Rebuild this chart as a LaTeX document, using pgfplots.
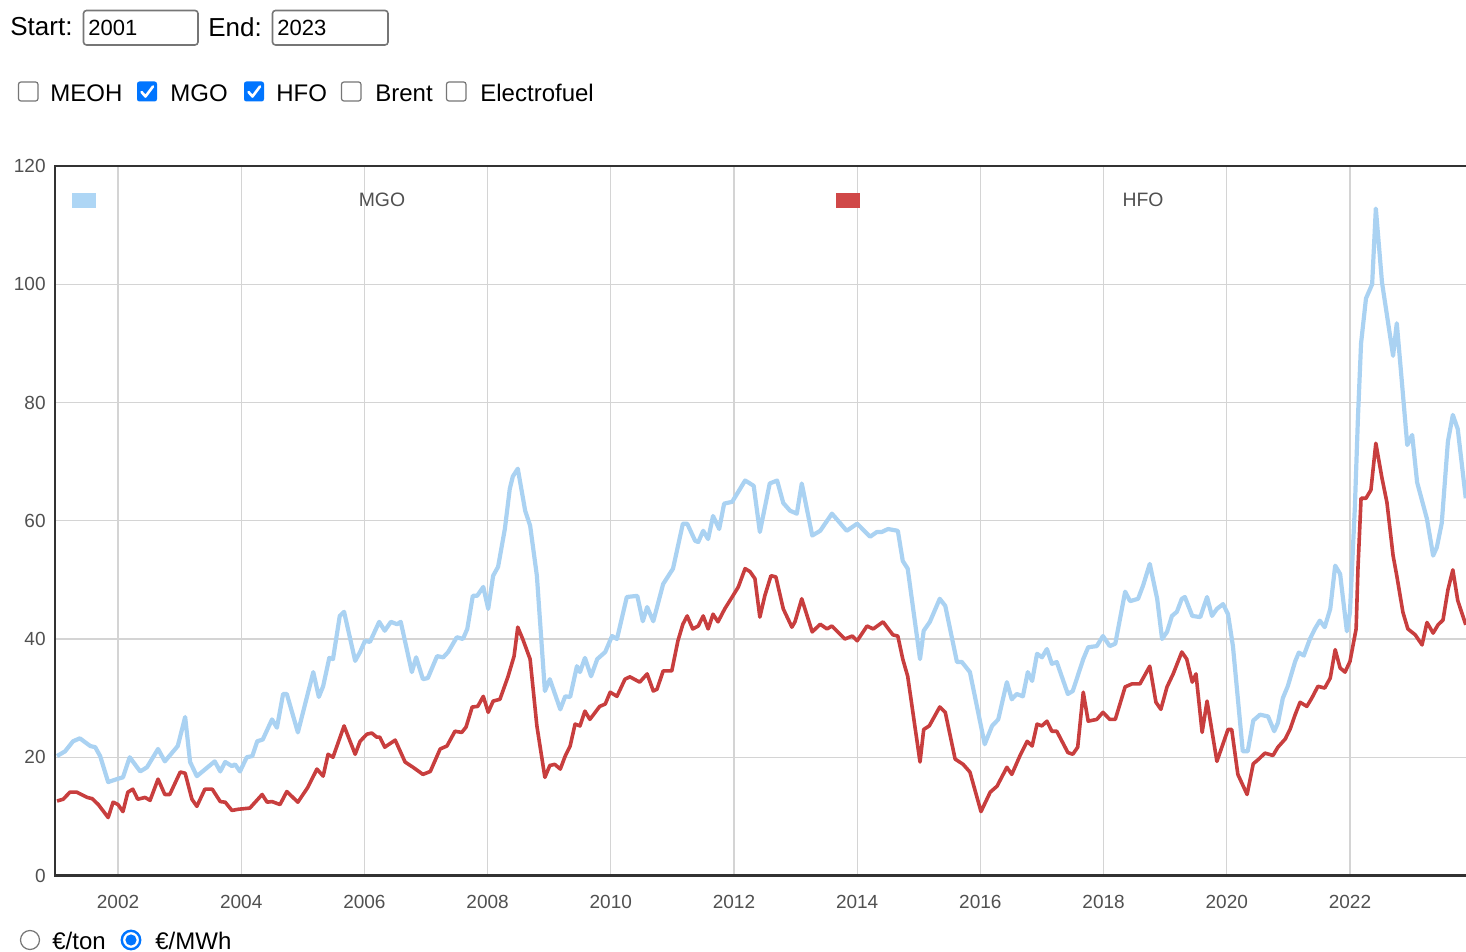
\documentclass[border=0pt]{standalone}
\usepackage{pgfplots}
\pgfplotsset{compat=1.18}
\usepackage{fontspec}
\setmainfont{Liberation Sans}
\definecolor{mgo}{RGB}{170,210,242}
\definecolor{mgosw}{RGB}{174,214,245}
\definecolor{hfo}{RGB}{200,62,62}
\definecolor{hfosw}{RGB}{208,72,72}
\definecolor{framec}{RGB}{50,50,50}
\definecolor{gridc}{RGB}{212,212,212}
\definecolor{ticktext}{RGB}{80,80,80}
\definecolor{chkblue}{RGB}{0,117,255}
\definecolor{boxgray}{RGB}{118,118,118}
\begin{document}
\begin{tikzpicture}
\useasboundingbox (0,0) rectangle (733pt,476pt);
\begin{axis}[
  scale only axis, anchor=south west, at={(27.5pt,38.25pt)},
  width=705.5pt, height=354.75pt,
  xmin=2000.977, xmax=2023.884, ymin=0, ymax=120,
  axis line style={draw=none},
  xtick={2002,2004,...,2022}, ytick={0,20,...,120},
  grid=major, grid style={draw=gridc, line width=0.55pt},
  major tick length=0pt,
  tick label style={font=\fontsize{9.5pt}{11pt}\selectfont, text=ticktext, inner sep=0pt},
  /pgf/number format/assume math mode=true,
  /pgf/number format/1000 sep={},
  xticklabel style={anchor=north, yshift=-9.8pt},
  yticklabel style={anchor=east, xshift=-4.5pt},
  clip=false,
]
\addplot[mgo, line width=2.1pt, line join=round] coordinates {
(2001.01,20.2)(2001.14,21.0)(2001.27,22.7)(2001.38,23.2)(2001.55,21.9)(2001.63,21.7)(2001.71,20.2)(2001.84,15.8)(2001.98,16.3)(2002.08,16.6)(2002.19,20.0)(2002.36,17.6)(2002.47,18.3)(2002.65,21.4)(2002.76,19.3)(2002.97,21.9)(2003.09,26.8)(2003.17,19.2)(2003.28,16.8)(2003.57,19.3)(2003.66,17.6)(2003.74,19.2)(2003.85,18.5)(2003.90,18.8)(2003.98,17.6)(2004.09,20.0)(2004.18,20.2)(2004.26,22.7)(2004.35,23.0)(2004.50,26.4)(2004.58,25.0)(2004.68,30.7)(2004.74,30.7)(2004.92,24.2)(2005.17,34.4)(2005.26,30.2)(2005.33,32.0)(2005.43,36.8)(2005.49,36.6)(2005.60,43.9)(2005.67,44.6)(2005.85,36.3)(2005.93,37.8)(2006.01,39.7)(2006.09,39.5)(2006.24,42.9)(2006.33,41.4)(2006.43,42.9)(2006.53,42.5)(2006.59,42.9)(2006.77,34.4)(2006.84,36.9)(2006.95,33.2)(2007.03,33.4)(2007.18,37.1)(2007.28,36.9)(2007.36,37.8)(2007.50,40.3)(2007.60,40.0)(2007.67,41.7)(2007.76,47.3)(2007.83,47.3)(2007.93,48.8)(2008.01,45.1)(2008.09,50.7)(2008.17,52.2)(2008.28,58.6)(2008.36,65.4)(2008.41,67.5)(2008.49,68.8)(2008.61,61.7)(2008.69,59.2)(2008.80,50.7)(2008.93,31.2)(2009.01,33.2)(2009.18,28.1)(2009.26,30.3)(2009.34,30.2)(2009.45,35.4)(2009.50,34.4)(2009.58,36.8)(2009.68,33.7)(2009.78,36.6)(2009.91,37.8)(2010.02,40.5)(2010.10,40.0)(2010.26,47.1)(2010.43,47.3)(2010.52,43.0)(2010.59,45.4)(2010.69,43.0)(2010.85,49.3)(2011.01,51.9)(2011.17,59.5)(2011.24,59.5)(2011.37,56.6)(2011.42,56.4)(2011.50,58.3)(2011.58,56.9)(2011.66,60.8)(2011.76,58.6)(2011.84,62.9)(2011.97,63.2)(2012.07,64.9)(2012.18,66.8)(2012.26,66.3)(2012.32,65.9)(2012.42,58.1)(2012.58,66.3)(2012.70,66.8)(2012.80,63.0)(2012.91,61.7)(2013.02,61.2)(2013.10,66.3)(2013.27,57.5)(2013.40,58.3)(2013.59,61.2)(2013.69,60.0)(2013.83,58.3)(2014.00,59.5)(2014.21,57.3)(2014.32,58.1)(2014.40,58.1)(2014.50,58.6)(2014.66,58.3)(2014.74,53.2)(2014.82,51.9)(2015.02,36.6)(2015.08,41.4)(2015.18,42.9)(2015.34,46.8)(2015.43,45.6)(2015.62,36.1)(2015.70,36.1)(2015.83,34.4)(2016.07,22.2)(2016.19,25.3)(2016.29,26.4)(2016.43,32.7)(2016.51,29.8)(2016.59,30.7)(2016.69,30.3)(2016.77,34.4)(2016.84,32.9)(2016.92,37.5)(2017.00,36.9)(2017.08,38.3)(2017.16,35.8)(2017.24,36.1)(2017.42,30.7)(2017.50,31.2)(2017.67,36.6)(2017.75,38.6)(2017.89,38.8)(2017.99,40.5)(2018.10,38.8)(2018.19,39.2)(2018.35,48.0)(2018.43,46.4)(2018.56,46.8)(2018.64,49.0)(2018.75,52.7)(2018.87,46.8)(2018.95,40.0)(2019.03,41.2)(2019.11,43.9)(2019.19,44.6)(2019.27,46.8)(2019.32,47.1)(2019.44,43.9)(2019.57,43.7)(2019.68,47.1)(2019.76,43.9)(2019.84,45.1)(2019.94,45.9)(2020.02,44.2)(2020.10,38.8)(2020.26,21.0)(2020.34,21.0)(2020.43,26.2)(2020.54,27.2)(2020.67,26.9)(2020.77,24.4)(2020.83,25.8)(2020.91,30.0)(2020.99,32.0)(2021.11,36.2)(2021.17,37.7)(2021.25,37.2)(2021.35,40.0)(2021.43,41.7)(2021.51,43.1)(2021.59,42.0)(2021.68,45.1)(2021.76,52.4)(2021.84,51.0)(2021.95,41.3)(2022.00,44.5)(2022.08,62.4)(2022.13,77.6)(2022.18,90.0)(2022.26,97.6)(2022.36,100.0)(2022.42,112.8)(2022.52,100.3)(2022.60,94.8)(2022.70,87.9)(2022.76,93.4)(2022.84,83.8)(2022.93,72.8)(2023.01,74.5)(2023.09,66.5)(2023.25,60.3)(2023.35,54.1)(2023.41,55.5)(2023.49,59.6)(2023.59,73.4)(2023.67,77.9)(2023.75,75.5)(2023.88,63.8)
};
\addplot[hfo, line width=1.8pt, line join=round] coordinates {
(2001.01,12.6)(2001.11,12.9)(2001.22,14.1)(2001.33,14.1)(2001.50,13.2)(2001.58,13.0)(2001.68,12.0)(2001.84,9.8)(2001.92,12.4)(2002.00,12.0)(2002.08,10.8)(2002.16,14.1)(2002.24,14.6)(2002.32,12.9)(2002.44,13.2)(2002.52,12.7)(2002.65,16.3)(2002.76,13.7)(2002.84,13.7)(2003.01,17.5)(2003.09,17.3)(2003.20,12.9)(2003.28,11.7)(2003.41,14.6)(2003.53,14.6)(2003.66,12.5)(2003.74,12.4)(2003.85,11.0)(2003.95,11.2)(2004.14,11.4)(2004.34,13.7)(2004.42,12.4)(2004.50,12.5)(2004.63,12.0)(2004.74,14.2)(2004.92,12.4)(2005.08,14.9)(2005.23,18.0)(2005.33,16.8)(2005.41,20.5)(2005.49,20.0)(2005.67,25.3)(2005.85,20.5)(2005.93,22.7)(2006.04,23.9)(2006.12,24.1)(2006.20,23.4)(2006.25,23.4)(2006.33,21.7)(2006.50,22.9)(2006.66,19.2)(2006.79,18.3)(2006.95,17.1)(2007.07,17.6)(2007.23,21.4)(2007.34,21.9)(2007.47,24.4)(2007.58,24.2)(2007.65,25.1)(2007.75,28.5)(2007.84,28.6)(2007.93,30.3)(2008.01,27.6)(2008.09,29.5)(2008.20,29.8)(2008.33,33.6)(2008.43,37.1)(2008.49,42.0)(2008.57,40.0)(2008.69,36.6)(2008.80,25.3)(2008.93,16.6)(2009.01,18.6)(2009.09,18.8)(2009.18,18.0)(2009.26,20.2)(2009.34,21.9)(2009.42,25.6)(2009.50,25.3)(2009.58,27.8)(2009.66,26.4)(2009.82,28.6)(2009.91,29.0)(2009.99,31.0)(2010.10,30.3)(2010.23,33.2)(2010.31,33.6)(2010.47,32.7)(2010.59,34.1)(2010.69,31.2)(2010.75,31.5)(2010.85,34.6)(2010.99,34.6)(2011.09,39.7)(2011.17,42.5)(2011.24,43.9)(2011.33,41.7)(2011.42,42.2)(2011.50,43.9)(2011.58,41.7)(2011.66,44.2)(2011.74,42.9)(2011.85,45.1)(2011.97,47.1)(2012.07,48.8)(2012.18,51.9)(2012.26,51.4)(2012.34,50.2)(2012.42,43.7)(2012.50,47.3)(2012.60,50.7)(2012.68,50.5)(2012.80,45.1)(2012.94,42.0)(2012.99,42.9)(2013.10,46.8)(2013.27,41.2)(2013.40,42.5)(2013.51,41.7)(2013.59,42.2)(2013.80,40.0)(2013.92,40.5)(2014.00,39.7)(2014.16,42.2)(2014.26,41.7)(2014.42,42.9)(2014.58,40.7)(2014.66,40.5)(2014.74,36.6)(2014.82,33.7)(2015.02,19.2)(2015.08,24.7)(2015.17,25.3)(2015.34,28.5)(2015.43,27.6)(2015.59,19.7)(2015.72,18.8)(2015.83,17.5)(2016.01,10.8)(2016.16,14.1)(2016.27,15.1)(2016.43,18.3)(2016.51,17.1)(2016.64,20.2)(2016.76,22.7)(2016.84,21.9)(2016.92,25.6)(2017.00,25.3)(2017.08,26.1)(2017.16,24.4)(2017.24,24.4)(2017.42,20.8)(2017.50,20.5)(2017.58,21.7)(2017.67,31.0)(2017.75,26.1)(2017.89,26.4)(2017.99,27.6)(2018.10,26.4)(2018.19,26.4)(2018.35,31.9)(2018.46,32.4)(2018.59,32.4)(2018.75,35.4)(2018.85,29.3)(2018.93,28.1)(2019.03,31.9)(2019.13,34.1)(2019.27,37.8)(2019.35,36.6)(2019.44,32.7)(2019.50,34.1)(2019.60,24.2)(2019.68,29.5)(2019.84,19.3)(2020.02,24.7)(2020.08,24.7)(2020.18,17.1)(2020.33,13.7)(2020.43,18.9)(2020.51,19.6)(2020.62,20.7)(2020.75,20.3)(2020.83,21.7)(2020.95,23.1)(2021.03,24.8)(2021.11,27.2)(2021.19,29.3)(2021.30,28.6)(2021.38,30.0)(2021.48,32.0)(2021.59,31.7)(2021.68,33.4)(2021.76,38.2)(2021.84,35.1)(2021.92,34.4)(2022.00,36.2)(2022.10,41.7)(2022.13,52.0)(2022.18,63.8)(2022.26,63.8)(2022.34,65.2)(2022.42,73.1)(2022.52,67.2)(2022.60,63.1)(2022.70,54.1)(2022.76,50.7)(2022.86,44.5)(2022.94,41.7)(2023.06,40.7)(2023.17,39.0)(2023.25,42.8)(2023.35,41.0)(2023.43,42.4)(2023.51,43.2)(2023.59,48.3)(2023.67,51.7)(2023.75,46.5)(2023.88,42.4)
};
\draw[framec, line width=1.4pt] (rel axis cs:1.01,1) -- (rel axis cs:0,1) -- (rel axis cs:0,0) -- (rel axis cs:1.01,0);
\end{axis}
\begin{scope}[x=0.5pt,y=-0.5pt,shift={(0,476pt)}]
  % legend
  \fill[mgosw] (72,193) rectangle (96,208);
  \node[text=ticktext, font=\fontsize{9.7pt}{11pt}\selectfont, inner sep=0pt] at (382,200) {MGO};
  \fill[hfosw] (836,193) rectangle (860,208);
  \node[text=ticktext, font=\fontsize{9.7pt}{11pt}\selectfont, inner sep=0pt] at (1143,200) {HFO};
  % start / end inputs
  \node[anchor=west, inner sep=0pt, font=\fontsize{13pt}{15pt}\selectfont] at (10,27) {Start:};
  \draw[boxgray, line width=0.8pt, rounded corners=1.5pt] (83.5,10.5) rectangle (198,45);
  \node[anchor=west, inner sep=0pt, font=\fontsize{11pt}{13pt}\selectfont] at (88,28) {2001};
  \node[anchor=west, inner sep=0pt, font=\fontsize{13pt}{15pt}\selectfont] at (208,27) {End:};
  \draw[boxgray, line width=0.8pt, rounded corners=1.5pt] (272.5,10.5) rectangle (388,45);
  \node[anchor=west, inner sep=0pt, font=\fontsize{11pt}{13pt}\selectfont] at (277,28) {2023};
  % checkboxes
  \draw[boxgray, line width=0.6pt, rounded corners=1.2pt, fill=white] (18.5,82) rectangle (38,101);
  \fill[chkblue, rounded corners=1.2pt] (137,81.5) rectangle (157,101.5);
  \draw[white, line width=1.3pt, line cap=round, line join=round] (141.5,92) -- (145.5,96.5) -- (153,86.5);
  \fill[chkblue, rounded corners=1.2pt] (244,81.5) rectangle (264,101.5);
  \draw[white, line width=1.3pt, line cap=round, line join=round] (248.5,92) -- (252.5,96.5) -- (260,86.5);
  \draw[boxgray, line width=0.6pt, rounded corners=1.2pt, fill=white] (341.5,82) rectangle (361,101);
  \draw[boxgray, line width=0.6pt, rounded corners=1.2pt, fill=white] (446.5,82) rectangle (466,101);
  \begin{scope}[every node/.style={anchor=west, inner sep=0pt, font=\fontsize{12pt}{14pt}\selectfont}]
    \node at (50,93) {MEOH};
    \node at (170,93) {MGO};
    \node at (276,93) {HFO};
    \node at (375,93) {Brent};
    \node at (480,93) {Electrofuel};
    \node at (52,941) {€/ton};
    \node at (155,941) {€/MWh};
  \end{scope}
  % radio buttons
  \draw[boxgray, line width=0.6pt, fill=white] (30,940) circle (9.5);
  \draw[chkblue, line width=1.2pt, fill=white] (131,940) circle (9.2);
  \fill[chkblue] (131,940) circle (5.6);
\end{scope}
\end{tikzpicture}
\end{document}
